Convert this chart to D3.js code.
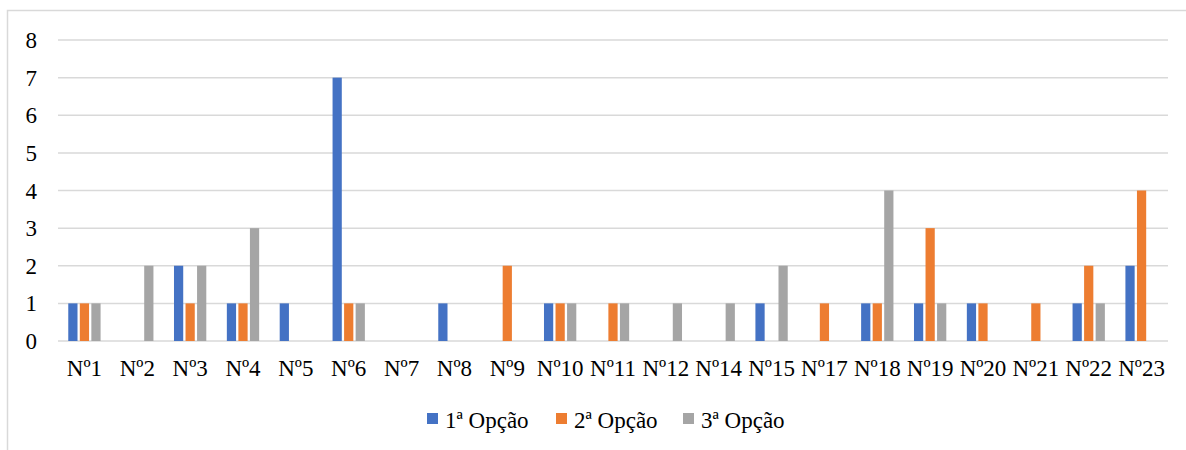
<!DOCTYPE html>
<html>
<head>
<meta charset="utf-8">
<script src="https://cdn.jsdelivr.net/npm/d3@7"></script>
</head>
<body style="margin:0;background:#fff">
<svg id="chart" width="1186" height="450" style="display:block" font-family="Liberation Serif"></svg>
<script>
// Categories and values per option
const categories = ["Nº1","Nº2","Nº3","Nº4","Nº5","Nº6","Nº7","Nº8","Nº9","Nº10","Nº11","Nº12","Nº14","Nº15","Nº17","Nº18","Nº19","Nº20","Nº21","Nº22","Nº23"];
const opcao1 = [1,0,2,1,1,7,0,1,0,1,0,0,0,1,0,1,1,1,0,1,2];
const opcao2 = [1,0,1,1,0,1,0,0,2,1,1,0,0,0,1,1,3,1,1,2,4];
const opcao3 = [1,2,2,3,0,1,0,0,0,1,1,1,1,2,0,4,1,0,0,1,0];
const seriesNames = ["1ª Opção","2ª Opção","3ª Opção"];
const colors = ["#4472C4","#ED7D31","#A5A5A5"];
const yTicks = [0,1,2,3,4,5,6,7,8];

const series = [opcao1, opcao2, opcao3];
const FONT = "Liberation Serif";
const FS = 23;

const svg = d3.select("#chart");
const W = 1186, H = 450;

// outer frame (right and bottom edges fall outside the view)
svg.append("rect")
  .attr("x", 7.5).attr("y", 10.5)
  .attr("width", W + 20).attr("height", H + 20)
  .attr("fill", "none").attr("stroke", "#d9d9d9").attr("stroke-width", 1.5);

const plot = { left: 58, right: 1168, top: 40, bottom: 341 };

const x = d3.scaleBand().domain(categories).range([plot.left, plot.right]).padding(0);
const y = d3.scaleLinear().domain([0, 8]).range([plot.bottom, plot.top]);

const inner = d3.scaleBand().domain(d3.range(series.length))
  .range([0, x.bandwidth()]).paddingInner(0.2).paddingOuter(0.89);

// gridlines
svg.append("g")
  .selectAll("line").data(yTicks).join("line")
  .attr("x1", plot.left).attr("x2", plot.right)
  .attr("y1", d => y(d)).attr("y2", d => y(d))
  .attr("stroke", "#d9d9d9").attr("stroke-width", 1.5);

// y axis labels
svg.append("g").selectAll("text").data(yTicks).join("text")
  .attr("x", plot.left - 21).attr("y", d => y(d))
  .attr("dy", "0.35em").attr("text-anchor", "end")
  .attr("font-size", FS).attr("fill", "#000")
  .style("font-family", FONT)
  .text(d => d);

// bars
series.forEach((vals, si) => {
  svg.append("g").selectAll("rect").data(vals).join("rect")
    .attr("x", (d, i) => x(categories[i]) + inner(si))
    .attr("width", inner.bandwidth())
    .attr("y", d => y(d))
    .attr("height", d => y(0) - y(d))
    .attr("fill", colors[si]);
});

// x axis labels
svg.append("g").selectAll("text").data(categories).join("text")
  .attr("x", d => x(d) + x.bandwidth() / 2).attr("y", plot.bottom + 35)
  .attr("text-anchor", "middle")
  .attr("font-size", FS).attr("fill", "#000")
  .style("font-family", FONT)
  .text(d => d);

// legend
const legendX = [427, 556, 683];
const legend = svg.append("g");
seriesNames.forEach((name, i) => {
  legend.append("rect")
    .attr("x", legendX[i]).attr("y", 413)
    .attr("width", 11).attr("height", 11)
    .attr("fill", colors[i]);
  legend.append("text")
    .attr("x", legendX[i] + 18).attr("y", 427.5)
    .attr("font-size", FS).attr("fill", "#000")
    .style("font-family", FONT)
    .text(name);
});
</script>
</body>
</html>
